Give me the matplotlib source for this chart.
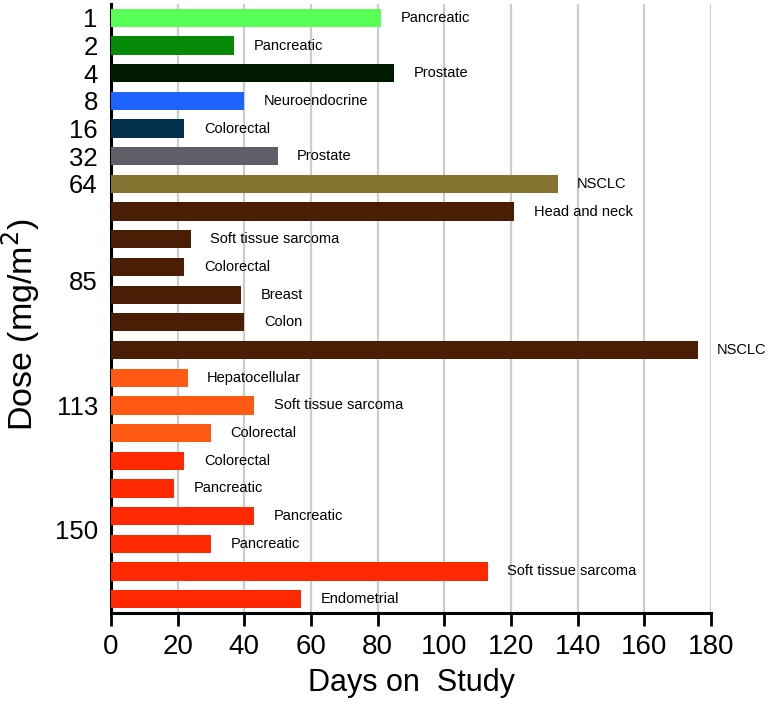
import matplotlib
matplotlib.use('Agg')
import matplotlib.pyplot as plt
import numpy as np
from matplotlib import font_manager

# ---- data ----
dose_levels = ['1', '2', '4', '8', '16', '32', '64', '85', '113', '150']
bar_doses = ['1', '2', '4', '8', '16', '32', '64',
             '85', '85', '85', '85', '85', '85',
             '113', '113', '113',
             '150', '150', '150', '150', '150', '150']
days_on_study = [81, 37, 85, 40, 22, 50, 134,
                 121, 24, 22, 39, 40, 176,
                 23, 43, 30,
                 22, 19, 43, 30, 113, 57]
tumor_types = ['Pancreatic', 'Pancreatic', 'Prostate', 'Neuroendocrine', 'Colorectal',
               'Prostate', 'NSCLC',
               'Head and neck', 'Soft tissue sarcoma', 'Colorectal', 'Breast', 'Colon', 'NSCLC',
               'Hepatocellular', 'Soft tissue sarcoma', 'Colorectal',
               'Colorectal', 'Pancreatic', 'Pancreatic', 'Pancreatic',
               'Soft tissue sarcoma', 'Endometrial']
dose_colors = {'1': '#57FF57', '2': '#078A07', '4': '#001A02', '8': '#1F63FF',
               '16': '#03304D', '32': '#5E5E66', '64': '#857430', '85': '#4A1E05',
               '113': '#FF5A14', '150': '#FF2800'}
x_ticks = list(range(0, 181, 20))

names = {f.name for f in font_manager.fontManager.ttflist}
narrow = 'Liberation Sans Narrow' if 'Liberation Sans Narrow' in names else 'Liberation Sans'
plt.rcParams['font.family'] = ['Liberation Sans', 'DejaVu Sans']

fig = plt.figure(figsize=(7.74, 7.10), dpi=100)
ax = fig.add_axes([111/774, 1 - 613/710, 600/774, (613 - 4)/710])

y = np.arange(len(days_on_study))
colors = [dose_colors[d] for d in bar_doses]
ax.barh(y, days_on_study, height=0.66, color=colors, zorder=3)

for yi, v, t in zip(y, days_on_study, tumor_types):
    ax.annotate(t, xy=(v, yi), xytext=(14, 0), textcoords='offset points',
                ha='left', va='center', fontsize=10.5, color='black', zorder=4,
                annotation_clip=False)

ax.set_ylim(len(days_on_study) - 0.5, -0.5)
ax.set_xlim(0, 180)
ax.set_xticks(x_ticks)
ax.set_xticklabels([str(v) for v in x_ticks], fontfamily=narrow, fontsize=20)

tick_pos = [np.mean([i for i, d in enumerate(bar_doses) if d == lev]) for lev in dose_levels]
ax.set_yticks(tick_pos)
ax.set_yticklabels(dose_levels, fontsize=18.5)
ax.tick_params(axis='y', length=0, pad=9.5)
ax.tick_params(axis='x', length=9, width=2, direction='out', pad=6, color='black')

ax.grid(axis='x', color='#cccccc', linewidth=1.6, zorder=0)
ax.set_axisbelow(True)
for s in ['top', 'right']:
    ax.spines[s].set_visible(False)
for s in ['left', 'bottom']:
    ax.spines[s].set_linewidth(2.2)
    ax.spines[s].set_color('black')

ax.set_xlabel('Days on  Study', fontfamily=narrow, fontsize=22, labelpad=6)
fig.text(21/774, 1 - 325/710, 'Dose (mg/m$^2$)', rotation=90, fontsize=24.5,
         ha='center', va='center')

fig.savefig('out.png', dpi=100)
